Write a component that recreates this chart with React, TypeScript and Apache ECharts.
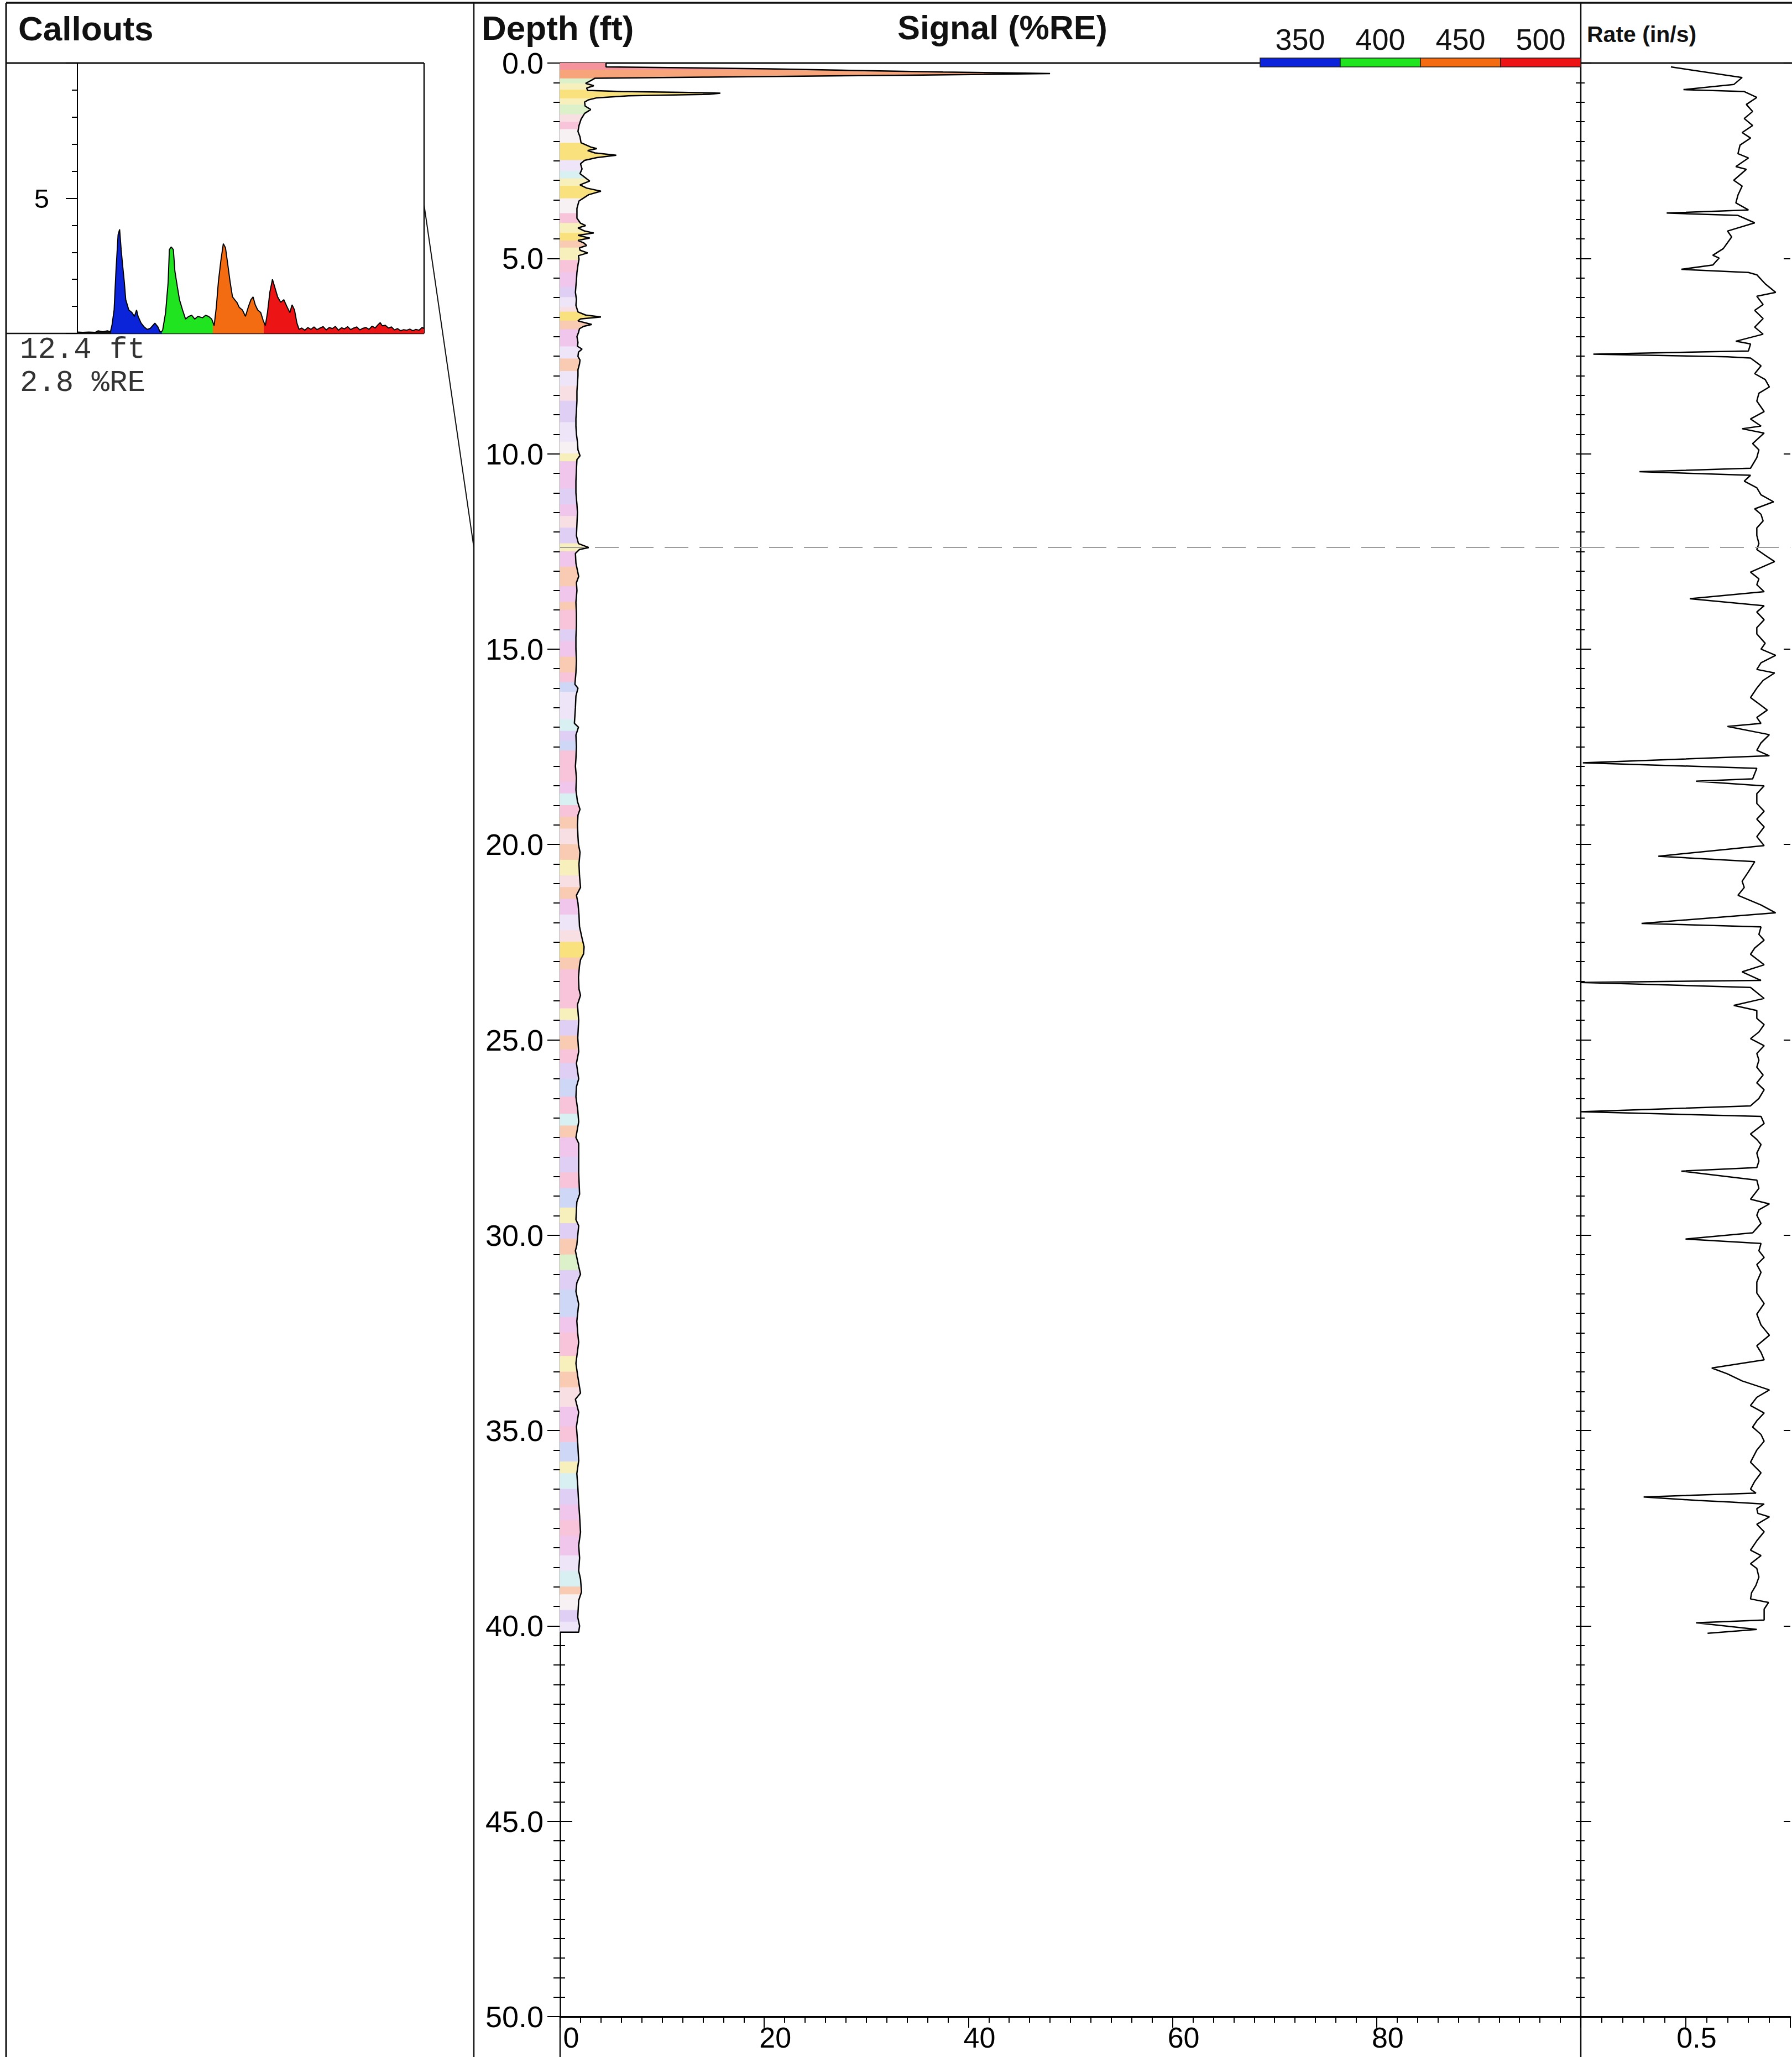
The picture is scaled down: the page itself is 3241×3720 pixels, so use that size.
import { useEffect, useRef } from 'react';
import * as echarts from 'echarts';

// ---- page / track layout (px) ----
const PAGE_W = 3241;
const PAGE_H = 3720;
const FRAME_X = 11;
const FRAME_Y = 5;
const HEADER_Y = 114;
const PLOT_BOTTOM = 3647;
const CALLOUT_LEFT = 140;
const CALLOUT_RIGHT = 767;
const CALLOUT_BOTTOM = 603;
const DIVIDER_X = 857;
const SIGNAL_LEFT = 1013;
const SIGNAL_RIGHT = 2859;
const RATE_WIDTH = 390;
const LEGEND_LEFT = 2279;
const LEGEND_SEG = 145;

const SANS = 'Arial, "Liberation Sans", Helvetica, sans-serif';
const MONO = '"Courier New", "Liberation Mono", monospace';
const INK = '#111';

// ---- wavelength bands (nm) and their colours ----
const bandCenters = [350, 400, 450, 500];
const bandColors = ['#0b24d9', '#20e420', '#f46c12', '#ec1414'];
const BAND_HALF = 25;

// ---- selected depth for the spectrum callout ----
const calloutDepth = 12.4;
const calloutValue = 2.8;

// ---- spectrum at the callout depth: [wavelength nm, %RE] ----
const spectrum: [number, number][] = [
  [292.2, 0.05], [297.3, 0.04], [303.3, 0.05], [309.4, 0.04], [312.4, 0.1], [316.9, 0.06], [321.4, 0.1], [324.4, 0.06],
  [325.9, 0.3], [328.0, 0.87], [329.8, 2.3], [331.9, 3.65], [333.4, 3.85], [334.9, 3.1], [336.4, 2.5], [338.0, 1.9],
  [339.4, 1.25], [342.4, 0.87], [345.5, 0.77], [347.9, 0.63], [350.0, 0.87], [351.5, 0.63], [354.5, 0.38], [357.5, 0.24],
  [360.5, 0.15], [363.5, 0.19], [368.0, 0.38], [371.0, 0.24], [373.1, 0.05],
  [375.5, 0.1], [378.5, 0.77], [381.0, 1.9], [382.2, 3.1], [384.0, 3.2], [386.1, 3.1], [387.6, 2.3], [390.0, 1.73],
  [392.1, 1.25], [395.1, 0.87], [398.1, 0.53], [401.1, 0.63], [404.1, 0.67], [407.1, 0.53], [410.1, 0.63], [414.7, 0.58],
  [417.7, 0.67], [420.7, 0.63], [423.7, 0.53],
  [426.1, 0.29], [428.2, 0.96], [430.3, 1.92], [432.7, 2.69], [435.1, 3.32], [437.2, 3.17], [439.3, 2.6], [441.7, 1.92],
  [444.1, 1.35], [446.2, 1.25], [448.4, 1.15], [450.8, 0.96], [453.8, 0.87], [456.8, 0.63], [459.8, 1.0], [462.2, 1.25],
  [464.3, 1.35], [466.4, 1.06], [468.8, 0.87], [471.8, 0.77], [474.2, 0.48],
  [476.3, 0.29], [478.4, 0.77], [480.8, 1.54], [483.3, 2.0], [485.4, 1.73], [488.4, 1.35], [491.4, 1.15], [494.4, 1.25],
  [497.4, 1.0], [500.4, 0.77], [502.5, 1.06], [504.9, 0.87], [507.3, 0.38], [509.4, 0.15],
  [512, 0.2], [515, 0.12], [518, 0.22], [521, 0.15], [524, 0.24], [527, 0.14], [530, 0.2], [533, 0.25], [536, 0.13],
  [539, 0.22], [542, 0.18], [545, 0.26], [548, 0.12], [551, 0.21], [554, 0.17], [557, 0.25], [560, 0.14], [563, 0.2],
  [566, 0.24], [569, 0.13], [572, 0.19], [575, 0.22], [578, 0.15], [581, 0.27], [584, 0.2], [587, 0.33], [589, 0.4],
  [591, 0.28], [594, 0.3], [597, 0.2], [600, 0.24], [603, 0.13], [606, 0.18], [609, 0.1], [612, 0.14], [615, 0.12],
  [618, 0.16], [621, 0.1], [624, 0.15], [627, 0.12], [630, 0.22], [632, 0.18],
];

// ---- signal log: [depth ft, %RE] ----
const signalTrace: [number, number][] = [
  [0.0, 4.5], [0.1, 4.5], [0.12, 11.9], [0.15, 20.4], [0.19, 29.0], [0.23, 37.5], [0.26, 45.5], [0.27, 48.0],
  [0.31, 34.3], [0.36, 14.5], [0.39, 3.4], [0.45, 3.0], [0.52, 2.5], [0.58, 3.3], [0.64, 2.6], [0.7, 2.7],
  [0.73, 6.0], [0.75, 11.9], [0.77, 15.7], [0.8, 14.6], [0.84, 6.7], [0.89, 3.6], [0.94, 2.8], [1.0, 2.4],
  [1.1, 2.45], [1.19, 3.0], [1.29, 2.4], [1.44, 2.05], [1.6, 1.85], [1.75, 1.75], [1.89, 1.95], [2.04, 2.05],
  [2.15, 3.0], [2.19, 3.6], [2.24, 2.7], [2.3, 3.4], [2.36, 5.5], [2.42, 3.6], [2.49, 2.4], [2.58, 2.0],
  [2.71, 2.15], [2.83, 1.95], [3.02, 2.9], [3.12, 1.95], [3.2, 2.6], [3.28, 4.0], [3.37, 2.8], [3.53, 1.85],
  [3.72, 1.65], [3.97, 1.65], [4.1, 2.0], [4.16, 2.5], [4.22, 1.75], [4.3, 2.4], [4.35, 3.3], [4.41, 1.75],
  [4.48, 2.9], [4.54, 1.75], [4.6, 2.3], [4.67, 2.6], [4.73, 1.9], [4.79, 1.95], [4.86, 2.7], [4.93, 1.8],
  [5.02, 1.85], [5.17, 1.75], [5.36, 1.65], [5.55, 1.6], [5.7, 1.55], [5.87, 1.5], [6.05, 1.6], [6.2, 1.55],
  [6.37, 1.75], [6.45, 2.5], [6.5, 4.0], [6.55, 2.0], [6.6, 1.75], [6.69, 3.1], [6.74, 2.3], [6.8, 1.9],
  [6.9, 1.8], [7.0, 1.65], [7.15, 1.75], [7.25, 1.7], [7.32, 2.15], [7.4, 1.8], [7.51, 1.75], [7.6, 1.95],
  [7.7, 1.9], [7.85, 1.75], [8.0, 1.75], [8.2, 1.7], [8.4, 1.65], [8.65, 1.65], [8.9, 1.6], [9.1, 1.55],
  [9.3, 1.55], [9.5, 1.6], [9.7, 1.7], [9.9, 1.75], [10.05, 1.95], [10.15, 1.65], [10.4, 1.6], [10.7, 1.55],
  [11.0, 1.55], [11.3, 1.65], [11.5, 1.7], [11.8, 1.65], [12.1, 1.6], [12.3, 1.8], [12.4, 2.8], [12.45, 1.9],
  [12.55, 1.5], [12.8, 1.55], [13.14, 1.82], [13.3, 1.6], [13.5, 1.65], [13.8, 1.55], [14.1, 1.6], [14.4, 1.6],
  [14.7, 1.55], [15.0, 1.55], [15.3, 1.6], [15.6, 1.55], [15.9, 1.45], [16.0, 1.75], [16.2, 1.55], [16.5, 1.5],
  [16.9, 1.4], [17.0, 1.8], [17.2, 1.55], [17.5, 1.6], [17.8, 1.55], [18.0, 1.5], [18.3, 1.6], [18.6, 1.55],
  [18.9, 1.7], [19.1, 1.95], [19.25, 1.75], [19.5, 1.7], [19.8, 1.75], [20.0, 1.8], [20.2, 1.95], [20.5, 1.85],
  [20.8, 1.9], [21.1, 2.0], [21.3, 1.6], [21.5, 1.75], [21.8, 1.85], [22.1, 1.9], [22.4, 2.15], [22.62, 2.35],
  [22.8, 2.3], [22.95, 2.0], [23.1, 1.9], [23.4, 1.8], [23.7, 1.85], [23.86, 2.0], [24.1, 1.7], [24.5, 1.82],
  [24.95, 1.73], [25.3, 1.82], [25.6, 1.6], [26.0, 1.82], [26.2, 1.6], [26.46, 1.55], [26.8, 1.73], [27.1, 1.82],
  [27.5, 1.55], [27.65, 1.82], [28.4, 1.82], [28.95, 1.91], [29.15, 1.64], [29.6, 1.55], [29.76, 1.82], [30.25, 1.64],
  [30.4, 1.5], [30.8, 1.82], [31.0, 2.0], [31.22, 1.64], [31.44, 1.55], [31.76, 1.82], [32.2, 1.64], [32.52, 1.73],
  [32.74, 1.82], [33.28, 1.55], [33.61, 1.73], [34.04, 2.0], [34.2, 1.5], [34.53, 1.82], [34.9, 1.6], [35.34, 1.73],
  [35.77, 1.82], [36.1, 1.64], [36.42, 1.73], [36.86, 1.82], [37.18, 1.91], [37.6, 2.0], [37.94, 1.82], [38.26, 1.91],
  [38.59, 1.82], [38.8, 2.0], [39.13, 2.1], [39.35, 1.82], [39.78, 1.73], [40.0, 1.91], [40.16, 1.82],
];

// ---- spectral tint of the signal fill: [start depth ft, tint key] ----
const tintPalette: Record<string, string> = {
  R: '#f5949c', O: '#f8a47a', Y: '#f9e27e', y: '#f8f0bc', G: '#dcf1ca', C: '#d8f0f2', P: '#f7c4da',
  p: '#f7dfe4', L: '#e0cff5', l: '#efe5f8', B: '#cfd7f7', A: '#f8cbb2', M: '#f0c6ec', W: '#f7f1f3',
};
const tintBands: [number, string][] = [
  [0, 'R'], [0.18, 'O'], [0.4, 'G'], [0.53, 'y'], [0.69, 'Y'], [0.91, 'y'], [1.07, 'G'], [1.32, 'p'], [1.51, 'P'],
  [1.7, 'W'], [2.05, 'Y'], [2.49, 'l'], [2.77, 'C'], [2.96, 'y'], [3.15, 'Y'], [3.47, 'W'], [3.85, 'P'], [4.1, 'y'],
  [4.35, 'Y'], [4.55, 'A'], [4.73, 'y'], [5.05, 'P'], [5.36, 'M'], [5.74, 'L'], [6.0, 'l'], [6.25, 'p'], [6.37, 'Y'],
  [6.6, 'A'], [6.82, 'M'], [7.26, 'l'], [7.57, 'A'], [7.89, 'l'], [8.27, 'p'], [8.65, 'L'], [9.2, 'l'], [9.7, 'W'],
  [10.0, 'y'], [10.2, 'M'], [10.9, 'L'], [11.3, 'M'], [11.6, 'p'], [11.9, 'L'], [12.3, 'y'], [12.5, 'M'], [12.9, 'A'],
  [13.4, 'M'], [13.8, 'A'], [14.0, 'P'], [14.5, 'L'], [14.8, 'M'], [15.2, 'A'], [15.6, 'P'], [15.85, 'B'], [16.1, 'l'],
  [16.8, 'C'], [17.1, 'L'], [17.35, 'B'], [17.6, 'P'], [18.4, 'M'], [18.7, 'C'], [19.0, 'P'], [19.3, 'A'], [19.6, 'p'],
  [20.0, 'A'], [20.4, 'y'], [20.8, 'p'], [21.1, 'A'], [21.4, 'M'], [21.8, 'l'], [22.2, 'p'], [22.5, 'Y'], [22.9, 'A'],
  [23.2, 'P'], [24.2, 'y'], [24.5, 'L'], [24.9, 'A'], [25.25, 'P'], [25.6, 'L'], [26.0, 'B'], [26.46, 'P'], [26.9, 'C'],
  [27.2, 'A'], [27.5, 'M'], [28.0, 'L'], [28.4, 'P'], [28.8, 'B'], [29.3, 'y'], [29.7, 'L'], [30.1, 'A'], [30.5, 'G'],
  [30.9, 'L'], [31.4, 'B'], [32.1, 'M'], [32.5, 'P'], [33.1, 'y'], [33.5, 'A'], [33.9, 'p'], [34.4, 'M'], [34.9, 'P'],
  [35.3, 'B'], [35.8, 'y'], [36.1, 'C'], [36.5, 'L'], [36.9, 'M'], [37.3, 'P'], [37.7, 'M'], [38.2, 'l'], [38.6, 'C'],
  [39.0, 'A'], [39.2, 'W'], [39.6, 'L'], [39.9, 'l'],
];

// ---- logging rate: [depth ft, in/s] ----
const rateTrace: [number, number][] = [
  [0.1, 0.43], [0.37, 0.77], [0.55, 0.73], [0.68, 0.49], [0.73, 0.78], [0.88, 0.84], [1.06, 0.79], [1.24, 0.82],
  [1.42, 0.78], [1.6, 0.82], [1.78, 0.77], [1.92, 0.81], [2.1, 0.76], [2.32, 0.75], [2.43, 0.8], [2.65, 0.74],
  [2.72, 0.79], [3.0, 0.73], [3.15, 0.77], [3.38, 0.75], [3.58, 0.74], [3.76, 0.8], [3.84, 0.41], [3.9, 0.75],
  [4.09, 0.83], [4.3, 0.7], [4.45, 0.72], [4.6, 0.7], [4.75, 0.68], [4.92, 0.63], [4.99, 0.66], [5.17, 0.63],
  [5.28, 0.48], [5.36, 0.8], [5.42, 0.84], [5.65, 0.88], [5.87, 0.93], [5.97, 0.84], [6.18, 0.87], [6.33, 0.83],
  [6.54, 0.87], [6.76, 0.83], [6.94, 0.87], [7.12, 0.74], [7.19, 0.81], [7.37, 0.8], [7.45, 0.06], [7.52, 0.7],
  [7.55, 0.81], [7.75, 0.86], [7.95, 0.83], [8.1, 0.88], [8.29, 0.9], [8.45, 0.85], [8.65, 0.84], [8.92, 0.875],
  [9.11, 0.81], [9.29, 0.86], [9.36, 0.77], [9.47, 0.875], [9.74, 0.82], [9.9, 0.85], [10.1, 0.84], [10.37, 0.81],
  [10.46, 0.28], [10.55, 0.81], [10.7, 0.78], [10.87, 0.84], [11.05, 0.86], [11.23, 0.92], [11.41, 0.83], [11.55, 0.86],
  [11.72, 0.87], [11.9, 0.84], [12.09, 0.84], [12.3, 0.85], [12.45, 0.84], [12.6, 0.88], [12.76, 0.925], [13.03, 0.81],
  [13.2, 0.85], [13.35, 0.84], [13.53, 0.875], [13.71, 0.52], [13.89, 0.875], [14.05, 0.84], [14.25, 0.875], [14.45, 0.84],
  [14.61, 0.84], [14.85, 0.88], [15.0, 0.86], [15.16, 0.93], [15.35, 0.86], [15.52, 0.84], [15.61, 0.925], [15.8, 0.87],
  [16.0, 0.84], [16.24, 0.81], [16.4, 0.85], [16.56, 0.89], [16.75, 0.84], [16.9, 0.86], [16.98, 0.7], [17.19, 0.9],
  [17.4, 0.86], [17.59, 0.84], [17.73, 0.9], [17.91, 0.01], [18.05, 0.84], [18.32, 0.82], [18.38, 0.55], [18.5, 0.875],
  [18.7, 0.84], [18.95, 0.84], [19.15, 0.875], [19.35, 0.84], [19.55, 0.875], [19.8, 0.84], [20.03, 0.875], [20.3, 0.37],
  [20.44, 0.83], [20.7, 0.8], [20.94, 0.77], [21.1, 0.78], [21.3, 0.75], [21.55, 0.86], [21.75, 0.93], [22.02, 0.29],
  [22.11, 0.86], [22.3, 0.85], [22.45, 0.875], [22.65, 0.83], [22.81, 0.81], [23.08, 0.875], [23.26, 0.77], [23.48, 0.86],
  [23.53, 0.0], [23.66, 0.81], [23.94, 0.875], [24.12, 0.73], [24.25, 0.84], [24.45, 0.84], [24.61, 0.875], [24.8, 0.85],
  [24.97, 0.81], [25.15, 0.875], [25.35, 0.84], [25.52, 0.85], [25.7, 0.84], [25.9, 0.87], [26.1, 0.84], [26.28, 0.875],
  [26.5, 0.85], [26.69, 0.81], [26.84, 0.0], [26.96, 0.86], [27.14, 0.875], [27.41, 0.81], [27.55, 0.84], [27.68, 0.86],
  [27.9, 0.84], [28.1, 0.85], [28.27, 0.84], [28.36, 0.48], [28.59, 0.84], [28.8, 0.85], [29.08, 0.81], [29.2, 0.9],
  [29.35, 0.85], [29.49, 0.84], [29.7, 0.86], [29.94, 0.82], [30.1, 0.5], [30.21, 0.86], [30.4, 0.85], [30.57, 0.875],
  [30.75, 0.84], [30.95, 0.86], [31.2, 0.84], [31.48, 0.84], [31.75, 0.875], [32.02, 0.84], [32.3, 0.86], [32.56, 0.9],
  [32.83, 0.84], [33.0, 0.86], [33.19, 0.875], [33.4, 0.625], [33.55, 0.7], [33.73, 0.77], [33.96, 0.9], [34.15, 0.84],
  [34.36, 0.81], [34.55, 0.875], [34.75, 0.84], [34.91, 0.82], [35.1, 0.86], [35.27, 0.875], [35.5, 0.84], [35.81, 0.81],
  [36.08, 0.86], [36.3, 0.83], [36.5, 0.81], [36.6, 0.836], [36.7, 0.3], [36.79, 0.56], [36.83, 0.72], [36.88, 0.875],
  [37.0, 0.84], [37.12, 0.845], [37.21, 0.9], [37.4, 0.84], [37.59, 0.875], [37.82, 0.84], [38.06, 0.81], [38.2, 0.86],
  [38.41, 0.81], [38.53, 0.84], [38.75, 0.85], [38.96, 0.836], [39.15, 0.815], [39.31, 0.81], [39.4, 0.896], [39.57, 0.875],
  [39.85, 0.875], [39.92, 0.55], [40.09, 0.84], [40.19, 0.605],
];

// ---- helpers ----
const tintKeys = Object.keys(tintPalette);
const traceEnd = signalTrace[signalTrace.length - 1][0];

// signal value on the straight segment through a given depth
function traceAt(d: number): number {
  for (let i = 0; i < signalTrace.length - 1; i++) {
    const [d0, v0] = signalTrace[i];
    const [d1, v1] = signalTrace[i + 1];
    if (d >= d0 && d <= d1) return d1 === d0 ? v1 : v0 + ((v1 - v0) * (d - d0)) / (d1 - d0);
  }
  return 0;
}

// polygon (value, depth) between the depth axis and the signal trace
function fillOutline(top: number, bottom: number): [number, number][] {
  const pts: [number, number][] = [[0, top], [traceAt(top), top]];
  for (const [d, v] of signalTrace) if (d > top && d < bottom) pts.push([v, d]);
  pts.push([traceAt(bottom), bottom], [0, bottom]);
  return pts;
}

const tintItems = tintBands
  .map(([start, key], i) => {
    const end = i + 1 < tintBands.length ? tintBands[i + 1][0] : traceEnd;
    return [start, Math.min(end, traceEnd), tintKeys.indexOf(key)];
  })
  .filter((b) => b[0] < traceEnd);

const bandPieces = [
  { lt: bandCenters[0] - BAND_HALF, color: '#111111' },
  ...bandCenters.map((c, i) =>
    i === bandCenters.length - 1
      ? { gte: c - BAND_HALF, color: bandColors[i] }
      : { gte: c - BAND_HALF, lt: c + BAND_HALF, color: bandColors[i] },
  ),
];

const dash = {
  silent: true,
  symbol: ['none', 'none'],
  label: { show: false },
  lineStyle: { type: [43, 20], color: '#9c9c9c', width: 2 },
  data: [{ yAxis: calloutDepth }],
};

const tickStyle = { color: '#000', width: 2 };

function depthAxis(extra: any) {
  return {
    type: 'value',
    inverse: true,
    min: 0,
    max: 50,
    interval: 5,
    splitLine: { show: false },
    axisLine: { show: false },
    axisLabel: { show: false },
    ...extra,
  };
}

function bottomAxis(extra: any) {
  return {
    type: 'value',
    position: 'bottom',
    splitLine: { show: false },
    axisLine: { show: true, onZero: false, lineStyle: { color: '#000', width: 3 } },
    axisTick: { show: true, length: 20, lineStyle: tickStyle },
    ...extra,
  };
}

function buildOption(): any {
  const plotH = PLOT_BOTTOM - HEADER_Y;
  const labelBase = { color: '#000', fontSize: 52, margin: 12, padding: [0, 0, 0, 40] };
  return {
    animation: false,
    backgroundColor: '#ffffff',
    textStyle: { fontFamily: SANS },
    grid: [
      { left: SIGNAL_LEFT, top: HEADER_Y, width: SIGNAL_RIGHT - SIGNAL_LEFT, height: plotH },
      { left: SIGNAL_RIGHT, top: HEADER_Y, width: RATE_WIDTH, height: plotH },
      { left: CALLOUT_LEFT, top: HEADER_Y, width: CALLOUT_RIGHT - CALLOUT_LEFT, height: CALLOUT_BOTTOM - HEADER_Y },
    ],
    xAxis: [
      bottomAxis({
        gridIndex: 0,
        min: 0,
        max: 100,
        interval: 20,
        minorTick: { show: true, splitNumber: 10, length: 11, lineStyle: tickStyle },
        axisLabel: { ...labelBase, formatter: (v: number) => (v >= 100 ? '' : String(v)) },
      }),
      bottomAxis({
        gridIndex: 1,
        min: 0,
        max: 1,
        interval: 0.5,
        minorTick: { show: true, splitNumber: 5, length: 11, lineStyle: tickStyle },
        axisLabel: { ...labelBase, formatter: (v: number) => (Math.abs(v - 0.5) < 1e-9 ? '0.5' : '') },
      }),
      { gridIndex: 2, type: 'value', min: 292, max: 632, show: false },
    ],
    yAxis: [
      // depth scale with labels, on the left edge of the signal track
      depthAxis({
        gridIndex: 0,
        position: 'left',
        axisLine: { show: true, onZero: false, lineStyle: { color: '#000', width: 2.5 } },
        axisTick: { show: true, length: 23, lineStyle: tickStyle },
        minorTick: { show: true, splitNumber: 10, length: 12, lineStyle: tickStyle },
        axisLabel: {
          show: true,
          color: '#000',
          fontSize: 54,
          margin: 30,
          formatter: (v: number) => v.toFixed(1),
        },
      }),
      // tick marks along the callout panel divider
      depthAxis({
        gridIndex: 0,
        position: 'left',
        offset: SIGNAL_LEFT - DIVIDER_X,
        axisTick: { show: true, inside: true, length: 22, lineStyle: tickStyle },
        minorTick: { show: true, splitNumber: 10, length: 9, lineStyle: tickStyle },
      }),
      // rate track: ticks into the track
      depthAxis({
        gridIndex: 1,
        position: 'left',
        axisTick: { show: true, inside: true, length: 19, lineStyle: tickStyle },
        minorTick: { show: true, splitNumber: 10, length: 7, lineStyle: tickStyle },
      }),
      // rate track: ticks back into the signal track
      depthAxis({
        gridIndex: 1,
        position: 'left',
        axisTick: { show: true, inside: false, length: 9, lineStyle: tickStyle },
        minorTick: { show: true, splitNumber: 10, length: 9, lineStyle: tickStyle },
      }),
      // rate track: far edge
      depthAxis({
        gridIndex: 1,
        position: 'right',
        axisTick: { show: true, inside: true, length: 12, lineStyle: tickStyle },
      }),
      // spectrum amplitude
      {
        gridIndex: 2,
        type: 'value',
        min: 0,
        max: 10,
        interval: 5,
        position: 'left',
        splitLine: { show: false },
        axisLine: { show: true, onZero: false, lineStyle: { color: '#000', width: 2 } },
        axisTick: { show: true, length: 21, lineStyle: tickStyle },
        minorTick: { show: true, splitNumber: 5, length: 10, lineStyle: tickStyle },
        axisLabel: {
          color: '#000',
          fontSize: 49,
          margin: 51,
          formatter: (v: number) => (v === 5 ? '5' : ''),
        },
      },
    ],
    visualMap: [
      { type: 'piecewise', show: false, dimension: 0, seriesIndex: 4, pieces: bandPieces },
    ],
    series: [
      {
        name: 'marker',
        type: 'line',
        xAxisIndex: 0,
        yAxisIndex: 0,
        z: 1,
        data: [],
        markLine: dash,
      },
      {
        name: 'tint',
        type: 'custom',
        xAxisIndex: 0,
        yAxisIndex: 0,
        z: 2,
        silent: true,
        dimensions: ['top', 'bottom', 'tint'],
        encode: { y: ['top', 'bottom'] },
        data: tintItems,
        renderItem: (_params: any, api: any) => {
          const top = api.value(0);
          const bottom = api.value(1);
          const color = tintPalette[tintKeys[api.value(2)]] || '#eee';
          const points = fillOutline(top, bottom).map((p) => api.coord(p));
          return {
            type: 'polygon',
            shape: { points },
            style: { fill: color, stroke: color, lineWidth: 1 },
          };
        },
      },
      {
        name: 'Signal',
        type: 'line',
        xAxisIndex: 0,
        yAxisIndex: 0,
        z: 3,
        symbol: 'none',
        silent: true,
        lineStyle: { color: '#000', width: 2.5 },
        data: [...signalTrace.map(([d, v]) => [v, d]), [0, traceEnd]],
      },
      {
        name: 'Rate',
        type: 'line',
        xAxisIndex: 1,
        yAxisIndex: 2,
        z: 3,
        symbol: 'none',
        silent: true,
        lineStyle: { color: '#000', width: 2.5 },
        data: rateTrace.map(([d, r]) => [r, d]),
        markLine: dash,
      },
      {
        name: 'Spectrum',
        type: 'line',
        xAxisIndex: 2,
        yAxisIndex: 5,
        z: 3,
        symbol: 'none',
        silent: true,
        lineStyle: { color: '#000', width: 2 },
        areaStyle: { opacity: 1 },
        data: spectrum,
      },
    ],
  };
}

function line(x1: number, y1: number, x2: number, y2: number, w = 3, color = INK) {
  return { type: 'line', silent: true, shape: { x1, y1, x2, y2 }, style: { stroke: color, lineWidth: w } };
}

function text(
  t: string,
  x: number,
  y: number,
  size: number,
  weight: string,
  align: string,
  family = SANS,
  color = INK,
) {
  return {
    type: 'text',
    silent: true,
    x,
    y,
    style: {
      text: t,
      fill: color,
      fontSize: size,
      fontWeight: weight,
      fontFamily: family,
      align,
      verticalAlign: 'middle',
      textAlign: align,
      textVerticalAlign: 'middle',
    },
  };
}

function buildGraphics(calloutY: number) {
  const connectorStartY = HEADER_Y + 0.525 * (CALLOUT_BOTTOM - HEADER_Y);
  const legend = bandCenters.flatMap((c, i) => {
    const x0 = LEGEND_LEFT + i * LEGEND_SEG;
    return [
      {
        type: 'rect',
        silent: true,
        shape: { x: x0, y: 105, width: LEGEND_SEG, height: 16 },
        style: { fill: bandColors[i], stroke: '#222', lineWidth: 1.5 },
        z: 10,
      },
      text(String(c), x0 + LEGEND_SEG / 2, 71, 54, 'normal', 'center'),
    ];
  });
  return [
    // outer frame
    line(FRAME_X, FRAME_Y, PAGE_W, FRAME_Y, 3.5),
    line(FRAME_X, FRAME_Y, FRAME_X, PAGE_H, 3),
    // callout box
    line(FRAME_X, HEADER_Y, CALLOUT_RIGHT, HEADER_Y, 3),
    line(FRAME_X, CALLOUT_BOTTOM, CALLOUT_RIGHT, CALLOUT_BOTTOM, 2.5),
    line(CALLOUT_RIGHT, HEADER_Y, CALLOUT_RIGHT, CALLOUT_BOTTOM, 2.5),
    // track dividers and header rule
    line(DIVIDER_X, FRAME_Y, DIVIDER_X, PAGE_H, 2.5),
    line(SIGNAL_RIGHT, FRAME_Y, SIGNAL_RIGHT, PAGE_H, 2.5),
    line(SIGNAL_LEFT, PLOT_BOTTOM, SIGNAL_LEFT, PAGE_H, 2.5),
    line(SIGNAL_LEFT, HEADER_Y, PAGE_W, HEADER_Y, 3),
    // connector from callout box to the selected depth
    line(CALLOUT_RIGHT, connectorStartY, DIVIDER_X, calloutY, 2),
    // headers
    text('Callouts', 33, 51, 62, 'bold', 'left'),
    text('Depth (ft)', 871, 50, 62, 'bold', 'left'),
    text('Signal (%RE)', 1813, 50, 61, 'bold', 'center'),
    text('Rate (in/s)', 2870, 62, 41, 'bold', 'left'),
    ...legend,
    // callout readout
    text(`${calloutDepth.toFixed(1)} ft`, 36, 632, 54, 'normal', 'left', MONO, '#333'),
    text(`${calloutValue.toFixed(1)} %RE`, 36, 692, 54, 'normal', 'left', MONO, '#333'),
  ];
}

export default function App() {
  const ref = useRef<HTMLDivElement>(null);
  useEffect(() => {
    if (!ref.current) return;
    const chart = echarts.init(ref.current, null, { renderer: 'svg', width: PAGE_W, height: PAGE_H });
    chart.setOption(buildOption());
    const y = chart.convertToPixel({ yAxisIndex: 0 }, calloutDepth) as unknown as number;
    chart.setOption({ graphic: buildGraphics(y) });
    return () => chart.dispose();
  }, []);
  return (
    <div
      ref={ref}
      style={{ position: 'absolute', left: 0, top: 0, width: PAGE_W, height: PAGE_H, background: '#fff' }}
    />
  );
}
